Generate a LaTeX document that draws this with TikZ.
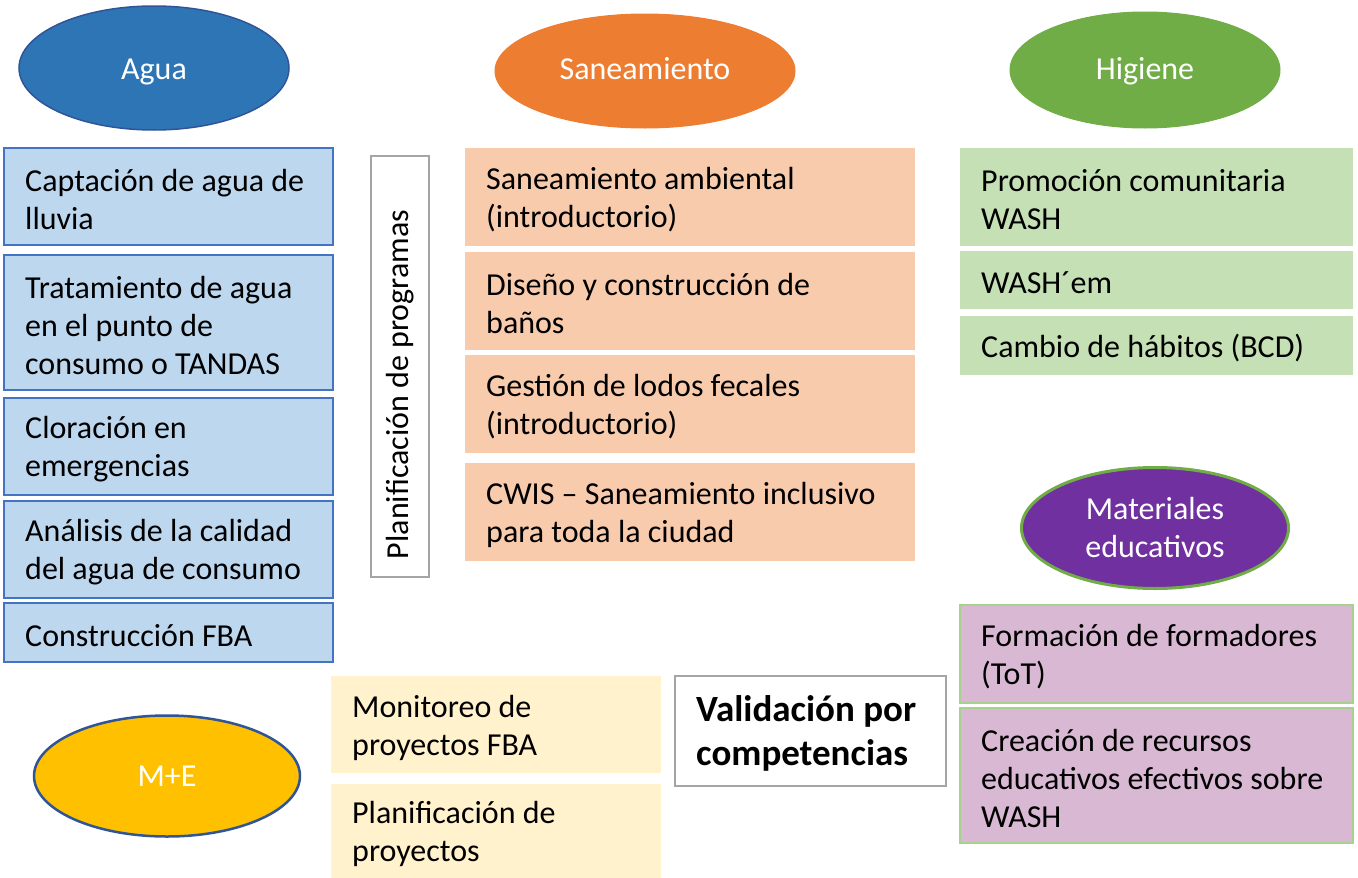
\documentclass[tikz,border=0pt]{standalone}
\usepackage{fontspec}
\setmainfont{Carlito}
\usetikzlibrary{shapes.geometric}
\definecolor{bluefill}{HTML}{BDD7EE}
\definecolor{blueline}{HTML}{4472C4}
\definecolor{darkblue}{HTML}{2F5597}
\definecolor{aguac}{HTML}{2E75B6}
\definecolor{sanc}{HTML}{ED7D31}
\definecolor{higc}{HTML}{70AD47}
\definecolor{matc}{HTML}{7030A0}
\definecolor{mec}{HTML}{FFC000}
\definecolor{orfill}{HTML}{F8CBAD}
\definecolor{grfill}{HTML}{C5E0B4}
\definecolor{pufill}{HTML}{D9B8D3}
\definecolor{puline}{HTML}{A9D18E}
\definecolor{yefill}{HTML}{FFF2CC}
\definecolor{grayline}{HTML}{A5A5A5}
\begin{document}
\begin{tikzpicture}[x=1pt,y=-1pt,
  base/.style={rectangle, anchor=north west, inner sep=0pt, outer sep=0pt},
  bluebox/.style={base, fill=bluefill, draw=blueline, line width=2pt},
  orbox/.style={base, fill=orfill},
  grbox/.style={base, fill=grfill},
  pubox/.style={base, fill=pufill, draw=puline, line width=2pt},
  yebox/.style={base, fill=yefill},
  graybox/.style={base, fill=white, draw=grayline, line width=2pt},
  txt/.style={anchor=west, align=left, inner sep=0pt, yshift=-3pt, font=\fontsize{32}{38}\selectfont},
  oval/.style={ellipse, inner sep=0pt, text=white, align=center, font=\fontsize{32}{38}\selectfont},
  ovaltxt/.style={anchor=base, inner sep=0pt, text=white, font=\fontsize{32}{38}\selectfont},
]
\useasboundingbox (0,0) rectangle (1358,878);

% Ellipses
\node[oval, fill=aguac, draw=darkblue, line width=1.5pt, minimum width=270, minimum height=124] (agua) at (154,68) {};
\node[ovaltxt] (tagua) at (agua.center |- 0,79) {Agua};
\node[oval, fill=sanc, draw=sanc, line width=1pt, minimum width=300, minimum height=114] (san) at (645,71) {};
\node[ovaltxt] (tsan) at (san.center |- 0,79) {Saneamiento};
\node[oval, fill=higc, draw=higc, line width=1pt, minimum width=270, minimum height=116] (hig) at (1145,70) {};
\node[ovaltxt] (thig) at (hig.center |- 0,79) {Higiene};
\node[oval, fill=matc, draw=higc, line width=3pt, minimum width=267, minimum height=121] (mat) at (1155,528) {Materiales\\educativos};
\node[oval, fill=mec, draw=darkblue, line width=2.5pt, minimum width=266, minimum height=121] (me) at (167,776) {M+E};

% Agua boxes
\node[bluebox, minimum width=329, minimum height=97] (b1) at (4,148) {};
\node[txt] (tb1) at ([xshift=21pt]b1.west) {Captación de agua de\\lluvia};
\node[bluebox, minimum width=329, minimum height=135] (b2) at (4,255) {};
\node[txt] (tb2) at ([xshift=21pt]b2.west) {Tratamiento de agua\\en el punto de\\consumo o TANDAS};
\node[bluebox, minimum width=329, minimum height=97] (b3) at (4,398) {};
\node[txt] (tb3) at ([xshift=21pt]b3.west) {Cloración en\\emergencias};
\node[bluebox, minimum width=329, minimum height=97] (b4) at (4,501) {};
\node[txt] (tb4) at ([xshift=21pt]b4.west) {Análisis de la calidad\\del agua de consumo};
\node[bluebox, minimum width=329, minimum height=59] (b5) at (4,603) {};
\node[txt] (tb5) at ([xshift=21pt]b5.west) {Construcción FBA};

% Planificacion de programas
\node[graybox, minimum width=58, minimum height=421] (plan) at (371,156) {};
\node[rotate=90, inner sep=0pt, font=\fontsize{32}{38}\selectfont] (tplan) at ([yshift=-18pt]plan.center) {Planificación de programas};

% Saneamiento boxes
\node[orbox, minimum width=450, minimum height=98] (o1) at (465,148) {};
\node[txt] (to1) at ([xshift=21pt]o1.west) {Saneamiento ambiental\\(introductorio)};
\node[orbox, minimum width=450, minimum height=98] (o2) at (465,252) {};
\node[txt] (to2) at ([xshift=21pt]o2.west) {Diseño y construcción de\\baños};
\node[orbox, minimum width=450, minimum height=98] (o3) at (465,355) {};
\node[txt] (to3) at ([xshift=21pt]o3.west) {Gestión de lodos fecales\\(introductorio)};
\node[orbox, minimum width=450, minimum height=98] (o4) at (465,463) {};
\node[txt] (to4) at ([xshift=21pt]o4.west) {CWIS – Saneamiento inclusivo\\para toda la ciudad};

% Higiene boxes
\node[grbox, minimum width=393, minimum height=98] (g1) at (960,148) {};
\node[txt] (tg1) at ([xshift=21pt]g1.west) {Promoción comunitaria\\WASH};
\node[grbox, minimum width=393, minimum height=58] (g2) at (960,251) {};
\node[txt] (tg2) at ([xshift=21pt]g2.west) {WASH´em};
\node[grbox, minimum width=393, minimum height=59] (g3) at (960,316) {};
\node[txt] (tg3) at ([xshift=21pt]g3.west) {Cambio de hábitos (BCD)};

% Materiales boxes
\node[pubox, minimum width=393, minimum height=98] (p1) at (960,605) {};
\node[txt] (tp1) at ([xshift=21pt]p1.west) {Formación de formadores\\(ToT)};
\node[pubox, minimum width=393, minimum height=135] (p2) at (960,708) {};
\node[txt] (tp2) at ([xshift=21pt]p2.west) {Creación de recursos\\educativos efectivos sobre\\WASH};

% M+E boxes
\node[yebox, minimum width=330, minimum height=97] (y1) at (331,676) {};
\node[txt] (ty1) at ([xshift=21pt]y1.west) {Monitoreo de\\proyectos FBA};
\node[yebox, minimum width=330, minimum height=94] (y2) at (331,784) {};
\node[txt] (ty2) at ([xshift=21pt]y2.west) {Planificación de\\proyectos};

% Validacion
\node[graybox, minimum width=271, minimum height=110] (val) at (675,676) {};
\node[txt, yshift=1pt, font=\fontsize{37}{44}\selectfont\bfseries] (tval) at ([xshift=21pt]val.west) {Validación por\\competencias};
\end{tikzpicture}
\end{document}
